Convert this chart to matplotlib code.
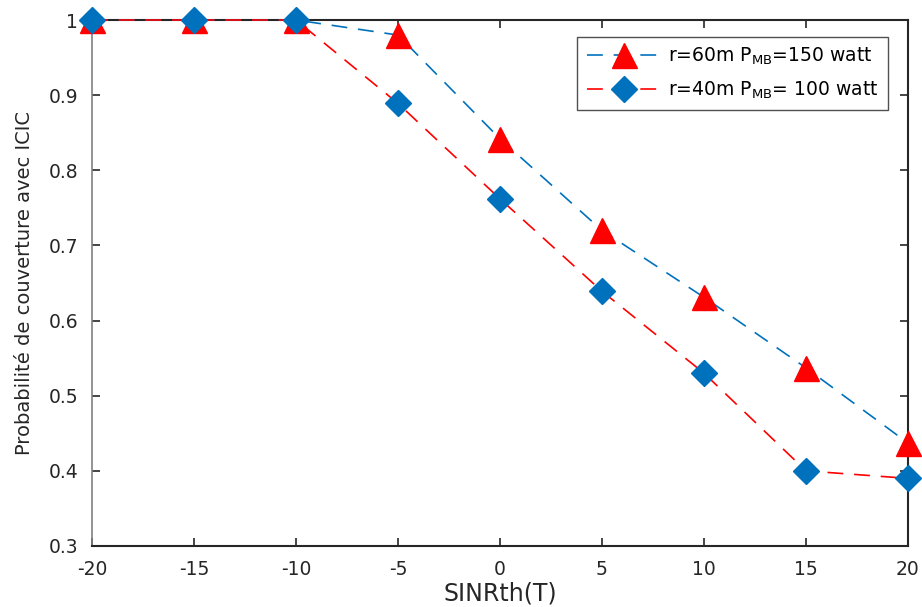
import matplotlib
matplotlib.use("Agg")
import matplotlib.pyplot as plt

x = [-20, -15, -10, -5, 0, 5, 10, 15, 20]
y_r60 = [1.0, 1.0, 1.0, 0.98, 0.842, 0.72, 0.631, 0.537, 0.437]
y_r40 = [1.0, 1.0, 1.0, 0.889, 0.762, 0.639, 0.53, 0.40, 0.39]
label_r60 = r"r=60m P$_{\mathregular{MB}}$=150 watt"
label_r40 = r"r=40m P$_{\mathregular{MB}}$= 100 watt"
xticks = [-20, -15, -10, -5, 0, 5, 10, 15, 20]
yticks = [0.3, 0.4, 0.5, 0.6, 0.7, 0.8, 0.9, 1.0]
yticklabels = ["0.3", "0.4", "0.5", "0.6", "0.7", "0.8", "0.9", "1"]

plt.rcParams['font.family'] = ['DejaVu Sans']
plt.rcParams['mathtext.fontset'] = 'dejavusans'
plt.rcParams['axes.unicode_minus'] = False

fig = plt.figure(figsize=(9.22, 6.07), dpi=100)
ax = fig.add_axes([0.0998, 0.1005, 0.885, 0.8665])

blue = '#0072BD'
red = '#FF0000'
dash = (0, (9.5, 6.5))
ax.plot(x, y_r60, linestyle=dash, color=blue, linewidth=1.2,
        marker='^', markersize=18, markerfacecolor=red, markeredgecolor=red,
        label=label_r60, clip_on=False, zorder=3)
ax.plot(x, y_r40, linestyle=dash, color=red, linewidth=1.2,
        marker='D', markersize=13.5, markerfacecolor=blue, markeredgecolor=blue,
        label=label_r40, clip_on=False, zorder=4)

ax.set_xlim(-20, 20)
ax.set_ylim(0.3, 1.0)
ax.set_xticks(xticks)
ax.set_yticks(yticks)
ax.set_yticklabels(yticklabels)
ax.tick_params(direction='in', length=6, width=1.2, labelsize=13.5, colors='#262626',
               top=True, right=True)
ax.tick_params(axis='x', pad=10)
ax.tick_params(axis='y', pad=10)
for s in ax.spines.values():
    s.set_linewidth(1.5)
    s.set_color('#262626')
ax.spines['left'].set_color('#808080')
ax.spines['left'].set_linewidth(1.2)
for lab in ax.get_xticklabels() + ax.get_yticklabels():
    lab.set_color('#262626')

ax.set_xlabel("SINRth(T)", fontsize=17, color='#262626', labelpad=2)
ax.set_ylabel("Probabilité de couverture avec ICIC", fontsize=14, color='#262626', labelpad=10)

leg = ax.legend(loc='upper right', bbox_to_anchor=(0.9755, 0.9686), fontsize=13.5,
                frameon=True, fancybox=False, edgecolor='#262626', handlelength=4.0,
                borderpad=0.5, labelspacing=0.65, handletextpad=0.35, borderaxespad=0.0)
leg.get_frame().set_linewidth(1.0)

fig.savefig("out.png", dpi=100)
